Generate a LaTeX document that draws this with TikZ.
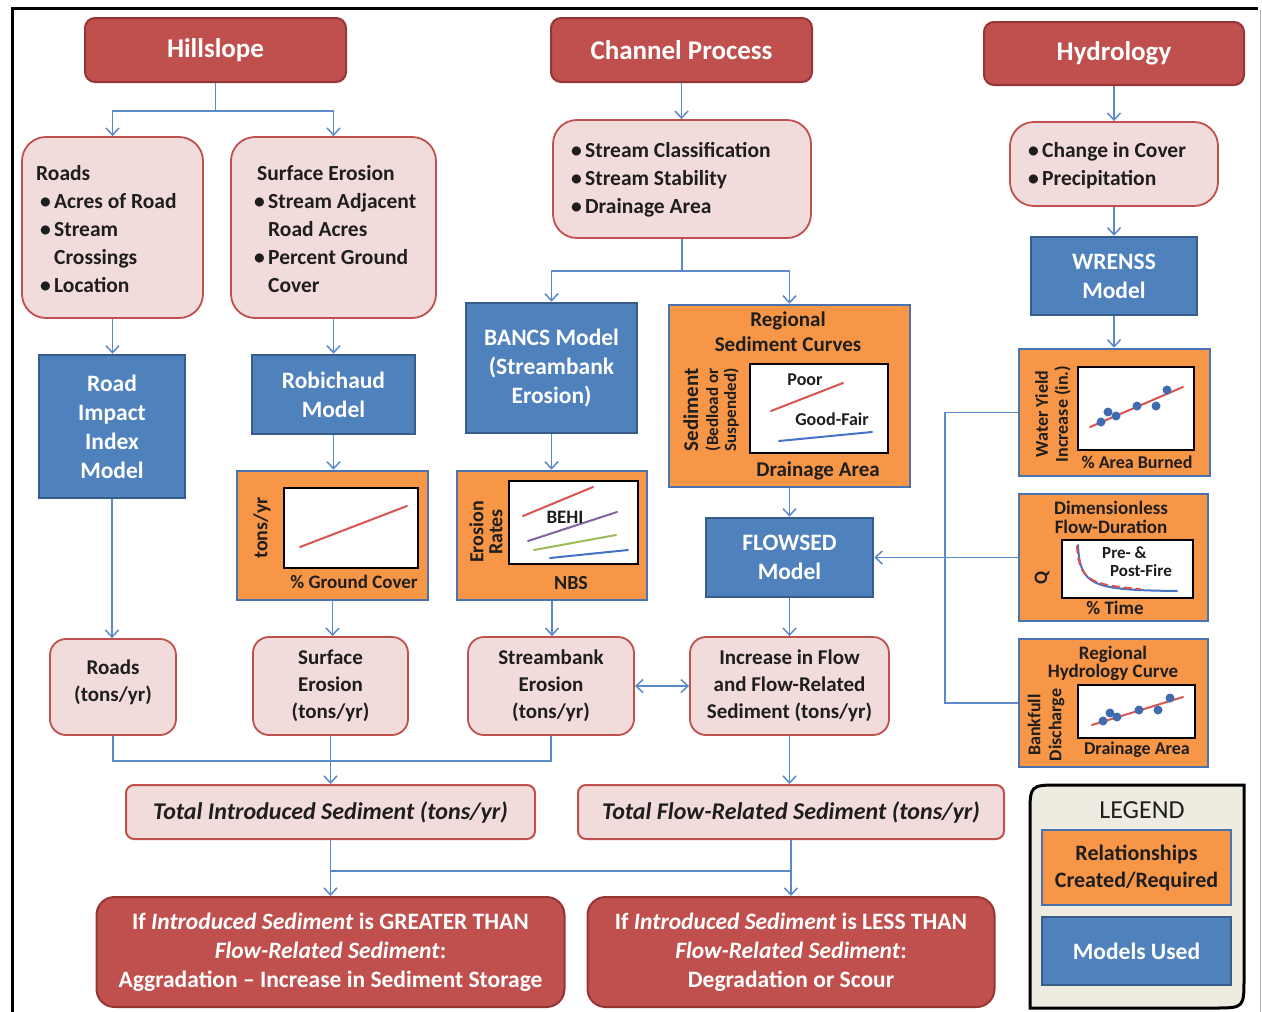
\documentclass[tikz,border=0pt]{standalone}
\usepackage{fontspec}
\setmainfont{Carlito}
\usetikzlibrary{arrows.meta,positioning,calc}

\definecolor{hdrred}{HTML}{C0504D}
\definecolor{hdredge}{HTML}{943634}
\definecolor{cuepink}{HTML}{F2DCDB}
\definecolor{modblue}{HTML}{4F81BD}
\definecolor{modedge}{HTML}{385D8A}
\definecolor{relorange}{HTML}{F79646}
\definecolor{reledge}{HTML}{4A72AE}
\definecolor{linkblue}{HTML}{5B8ACB}
\definecolor{legbg}{HTML}{EEECE1}
\definecolor{ink}{HTML}{1E1E1E}
\definecolor{trendred}{HTML}{D9534F}
\definecolor{trendblue}{HTML}{4472C4}
\definecolor{trendpurple}{HTML}{8064A2}
\definecolor{trendgreen}{HTML}{9BBB59}
\definecolor{dotblue}{HTML}{3F6BB0}

\newcommand{\fsz}[2]{\fontsize{#1}{#2}\selectfont}
\newcommand{\bul}{\makebox[14pt][l]{\textbullet}}
\newcommand{\hng}{\hspace*{14pt}}

\begin{document}
\begin{tikzpicture}[
  x=1pt, y=-1pt,
  >={Straight Barb[length=7pt,width=13pt]},
  hdr/.style={draw=hdredge, fill=hdrred, line width=2pt, rounded corners=10pt,
              inner sep=0pt, text=white, font=\fsz{27}{32}\bfseries},
  cue/.style={draw=hdrred, fill=cuepink, line width=1.8pt, rounded corners=24pt, inner sep=0pt},
  cuetxt/.style={align=left, inner sep=0pt, text=ink, font=\fsz{21.5}{28}\bfseries},
  model/.style={draw=modedge, fill=modblue, line width=2.5pt, inner sep=0pt, align=center,
                text=white, font=\fsz{23.5}{29}\bfseries},
  rel/.style={draw=reledge, fill=relorange, line width=2.5pt, inner sep=0pt},
  reltxt/.style={align=center, inner sep=0pt, text=ink, font=\fsz{21}{25}\bfseries},
  chart/.style={draw=black, fill=white, line width=2.5pt},
  outbox/.style={draw=hdrred, fill=cuepink, line width=1.8pt, rounded corners=16pt, inner sep=0pt,
                 align=center, text=ink, font=\fsz{21}{27}\bfseries},
  total/.style={draw=hdrred, fill=cuepink, line width=2pt, rounded corners=8pt, inner sep=0pt,
                text=ink, font=\fsz{24}{28}\bfseries\itshape},
  verdict/.style={draw=hdredge, fill=hdrred, line width=2pt, rounded corners=18pt, inner sep=0pt,
                  align=center, text=white, font=\fsz{23.5}{29}\bfseries},
  arr/.style={->, draw=linkblue, line width=1.5pt},
  pipe/.style={draw=linkblue, line width=1.5pt},
  trend/.style={line width=2pt, line cap=round}
]
\useasboundingbox (0,0) rectangle (1262,1012);
\fill[white] (0,0) rectangle (1262,1012);
\draw[line width=3pt] (12,1012) -- (12,8) -- (1258,8);
\draw[black!30, line width=1pt] (1260,10) -- (1260,1012);

% Headers
\node[hdr, minimum width=261, minimum height=64] (hill) at (215.5,50) {Hillslope};
\node[hdr, minimum width=261, minimum height=64] (chan) at (681.5,50) {Channel Process};
\node[hdr, minimum width=260, minimum height=63] (hydro) at (1114,53.5) {Hydrology};

% Input factors
\node[cue, minimum width=181, minimum height=181] (roads) at (112.5,227.5) {};
\node[cuetxt, anchor=west] (roadstxt) at (36,229)
  {Roads\\\hspace*{4pt}\bul Acres of Road\\\hspace*{4pt}\bul Stream\\\hspace*{4pt}\hng Crossings\\\hspace*{4pt}\bul Location};
\node[cue, minimum width=205, minimum height=181] (surf) at (333.5,227.5) {};
\node[cuetxt, anchor=west] (surftxt) at (254,229)
  {\hspace*{3pt}Surface Erosion\\\bul Stream Adjacent\\\hng Road Acres\\\bul Percent Ground\\\hng Cover};
\node[cue, minimum width=258, minimum height=118] (stream) at (682,179) {};
\node[cuetxt, anchor=west] (streamtxt) at (571,180)
  {\bul Stream Classification\\\bul Stream Stability\\\bul Drainage Area};
\node[cue, minimum width=208, minimum height=84] (cover) at (1114,164) {};
\node[cuetxt, anchor=west] (covertxt) at (1028,166)
  {\bul Change in Cover\\\bul Precipitation};

% Models
\node[model, minimum width=146, minimum height=143] (rii) at (112,426.5) {Road\\Impact\\Index\\Model};
\node[model, minimum width=163, minimum height=79] (robi) at (333.5,394.5) {Robichaud\\Model};
\node[model, minimum width=171, minimum height=130] (bancs) at (551.5,368) {BANCS Model\\(Streambank\\Erosion)};
\node[model, minimum width=166, minimum height=78] (wrenss) at (1114,276) {WRENSS\\Model};
\node[model, minimum width=167, minimum height=79] (flowsed) at (789.5,557.5) {FLOWSED\\Model};

% Relationships
\node[rel, minimum width=241, minimum height=182] (rsc) at (789.5,396) {};
\draw[chart] (750,364) rectangle (888,453);
\draw[trend, trendred] (771,411) -- (843,383);
\draw[trend, trendblue] (779,441) -- (872,432);
\node[reltxt] (rsc-t) at (788,331.5) {Regional\\Sediment Curves};
\node[reltxt, font=\fsz{18}{18}\bfseries] (rsc-a) at (805,380) {Poor};
\node[reltxt, font=\fsz{18}{18}\bfseries] (rsc-b) at (832,419) {Good-Fair};
\node[reltxt] (rsc-x) at (818,471) {Drainage Area};
\node[reltxt, rotate=90, font=\fsz{17}{18}\bfseries] (rsc-y) at (711,410)
  {{\fsz{21}{21}\bfseries Sediment}\\[2pt](Bedload or\\Suspended)};

\node[rel, minimum width=191, minimum height=129] (gcov) at (332.5,535.5) {};
\draw[chart] (284,488) rectangle (418,568);
\draw[trend, trendred] (300,547) -- (407,506);
\node[reltxt, rotate=90, font=\fsz{20}{20}\bfseries] (gcov-y) at (262,528) {tons/yr};
\node[reltxt, font=\fsz{19}{19}\bfseries] (gcov-x) at (354,582) {\% Ground Cover};

\node[rel, minimum width=190, minimum height=129] (nbs) at (552,535.5) {};
\draw[chart] (509,481) rectangle (638,564);
\draw[trend, trendred] (523,516) -- (593,487);
\draw[trend, trendpurple] (528,541) -- (617,512);
\draw[trend, trendgreen] (534,550) -- (616,535);
\draw[trend, trendblue] (550,558) -- (628,550);
\node[reltxt, font=\fsz{19}{19}\bfseries] (nbs-a) at (565,517) {BEHI};
\node[reltxt, rotate=90, font=\fsz{20}{19}\bfseries] (nbs-y) at (486,532) {Erosion\\Rates};
\node[reltxt, font=\fsz{20}{20}\bfseries] (nbs-x) at (571,583) {NBS};

\node[rel, minimum width=191, minimum height=127] (wyield) at (1114.5,412.5) {};
\draw[chart] (1078,367) rectangle (1194,450);
\draw[trend, trendred] (1090,427) -- (1183,387);
\foreach \px/\py in {1101/422, 1108/412, 1116/416, 1137/406, 1156/406, 1167/390}
  \fill[dotblue] (\px,\py) circle[radius=4.5];
\node[reltxt, rotate=90, font=\fsz{18}{20}\bfseries] (wyield-y) at (1053,414) {Water Yield\\Increase (in.)};
\node[reltxt, font=\fsz{18}{18}\bfseries] (wyield-x) at (1137,462) {\% Area Burned};

\node[rel, minimum width=189, minimum height=127] (fdur) at (1113.5,557.5) {};
\draw[chart] (1062,540) rectangle (1193,598);
\draw[trend, trendblue] (1078,545) .. controls (1080,586) and (1092,590) .. (1177,591);
\draw[trend, trendred, dashed, dash pattern=on 7pt off 5pt] (1077,546) .. controls (1079,580) and (1090,585) .. (1140,589);
\node[reltxt, font=\fsz{19}{19}\bfseries] (fdur-t) at (1111,517.5) {Dimensionless\\Flow-Duration};
\node[reltxt, font=\fsz{17}{18}\bfseries, align=left] (fdur-a) at (1137,562) {Pre- \&\\\hspace*{8pt}Post-Fire};
\node[reltxt, rotate=90, font=\fsz{19}{19}\bfseries] (fdur-y) at (1042,578) {Q};
\node[reltxt, font=\fsz{19}{19}\bfseries] (fdur-x) at (1115,608) {\% Time};

\node[rel, minimum width=189, minimum height=128] (rhc) at (1113.5,703) {};
\draw[chart] (1078,685) rectangle (1195,738);
\draw[trend, trendred] (1092,725) -- (1183,697);
\foreach \px/\py in {1103/721, 1110/713, 1117/717, 1139/710, 1158/710, 1170/698}
  \fill[dotblue] (\px,\py) circle[radius=4.5];
\node[reltxt, font=\fsz{19}{18}\bfseries] (rhc-t) at (1113,663) {Regional\\Hydrology Curve};
\node[reltxt, rotate=90, font=\fsz{18}{21}\bfseries] (rhc-y) at (1046,725) {Bankfull\\Discharge};
\node[reltxt, font=\fsz{18}{18}\bfseries] (rhc-x) at (1137,750) {Drainage Area};

% Outputs
\node[outbox, minimum width=126, minimum height=96] (roadsout) at (113,687) {Roads\\(tons/yr)\\[-15pt]};
\node[outbox, minimum width=155, minimum height=98] (surfout) at (330.5,686) {Surface\\Erosion\\(tons/yr)};
\node[outbox, minimum width=166, minimum height=98] (bankout) at (551,686) {Streambank\\Erosion\\(tons/yr)};
\node[outbox, minimum width=199, minimum height=98] (flowout) at (789.5,686) {Increase in Flow\\and Flow-Related\\Sediment (tons/yr)};

\node[total, minimum width=409, minimum height=54] (totin) at (330.5,812) {Total Introduced Sediment (tons/yr)};
\node[total, minimum width=426, minimum height=54] (totflow) at (791,812) {Total Flow-Related Sediment (tons/yr)};

\node[verdict, minimum width=468, minimum height=110] (aggr) at (330.5,952)
  {If \textit{Introduced Sediment} is GREATER THAN\\\textit{Flow-Related Sediment}:\\Aggradation -- Increase in Sediment Storage};
\node[verdict, minimum width=407, minimum height=110] (degr) at (791,952)
  {If \textit{Introduced Sediment} is LESS THAN\\\textit{Flow-Related Sediment}:\\Degradation or Scour};

% Legend
\draw[fill=legbg, line width=3pt] (1030,1008) -- (1030,815) .. controls (1030,785) .. (1060,785)
  -- (1244,785) -- (1244,978) .. controls (1244,1008) .. (1214,1008) -- cycle;
\node[inner sep=0pt, text=ink, font=\fsz{26}{26}] (legtitle) at (1142,810) {LEGEND};
\node[rel, minimum width=189, minimum height=75, align=center, text=ink, font=\fsz{22}{27}\bfseries]
  (legrel) at (1136.5,867.5) {Relationships\\Created/Required};
\node[model, minimum width=189, minimum height=68] (legmod) at (1136.5,951) {Models Used};

% Arrows
\draw[arr] (hill.south) -- ++(0,28) -| (roads.north);
\draw[arr] (hill.south) -- ++(0,28) -| (surf.north);
\draw[arr] (chan.south) -- (chan.south |- stream.north);
\draw[arr] (hydro.south) -- (cover.north);
\draw[arr] (roads.south) -- (roads.south |- rii.north);
\draw[arr] (surf.south) -- (robi.north);
\draw[arr] (stream.south) -- ++(0,32) -| (bancs.north);
\draw[arr] (stream.south) -- ++(0,32) -| (rsc.north);
\draw[arr] (cover.south) -- (wrenss.north);
\draw[arr] (wrenss.south) -- (wrenss.south |- wyield.north);
\draw[arr] (robi.south) -- (robi.south |- gcov.north);
\draw[arr] (bancs.south) -- (bancs.south |- nbs.north);
\draw[arr] (rsc.south) -- (flowsed.north);
\draw[arr] (rii.south) -- (rii.south |- roadsout.north);
\draw[arr] (gcov.south) -- (gcov.south |- surfout.north);
\draw[arr] (nbs.south) -- (nbs.south |- bankout.north);
\draw[arr] (flowsed.south) -- (flowout.north);
\draw[arr, <->] (bankout.east) -- (flowout.west);
\draw[pipe] (wyield.west) -- ++(-73,0) |- (rhc.west);
\draw[arr] (fdur.west) -- (flowsed.east);
\draw[pipe] (roadsout.south) |- ($(surfout.south)+(0,25)$) -| (bankout.south);
\draw[arr] (surfout.south) -- (totin.north);
\draw[arr] (flowout.south) -- (flowout.south |- totflow.north);
\draw[pipe] ($(totin.south)+(0,31)$) -- ($(totflow.south)+(0,31)$);
\draw[arr] (totin.south) -- (aggr.north);
\draw[arr] (totflow.south) -- (degr.north);
\end{tikzpicture}
\end{document}
